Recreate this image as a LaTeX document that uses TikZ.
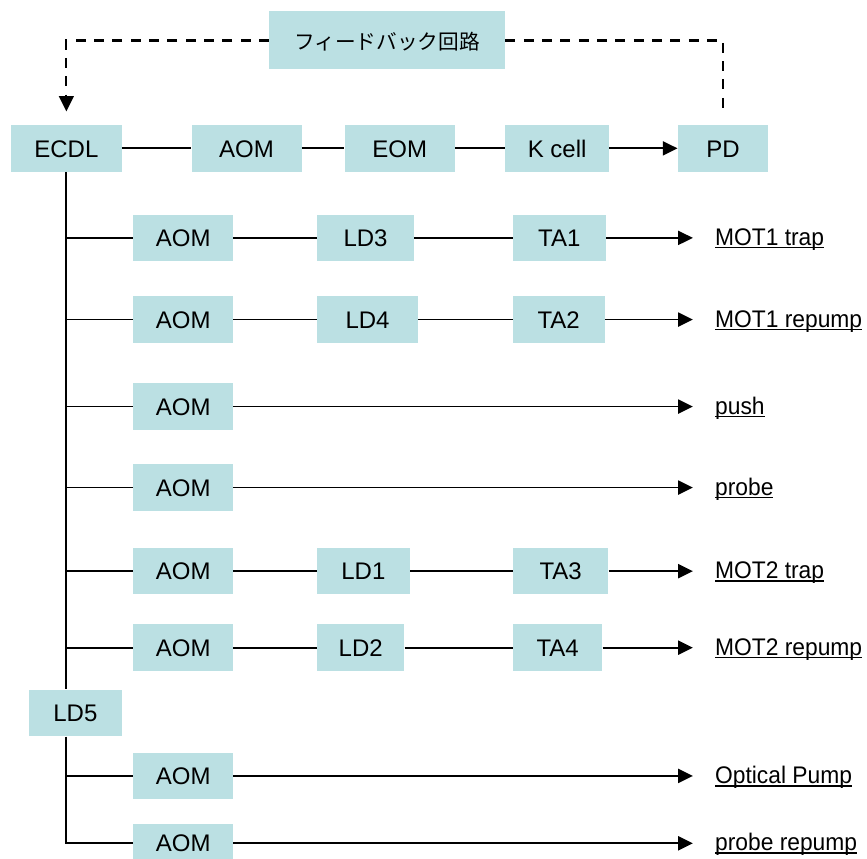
\documentclass[tikz,border=0pt]{standalone}
\usepackage{fontspec}
\setmainfont{Liberation Sans}
\newfontfamily\jpfont{Noto Sans CJK JP}
\newfontfamily\portfont[FakeStretch=0.95]{Liberation Sans}
\usepackage{xcolor}
\usepackage{tikz}
\usetikzlibrary{arrows.meta,positioning}
\definecolor{optfill}{RGB}{187,224,227}
\newcommand{\ulined}[1]{\setbox0\hbox{#1}\rlap{\rule[-2.2pt]{\wd0}{1.1pt}}\box0}
\tikzset{
  optic/.style={rectangle, fill=optfill, minimum height=35pt, inner sep=0pt, align=center, font=\fontsize{18}{20}\selectfont, text height=13pt, text depth=0pt},
  port/.style={inner sep=0pt, font=\portfont\fontsize{18}{20}\selectfont, text height=13pt, text depth=1.5pt},
  wire/.style={line width=1.3pt, draw=black},
  beam/.style={wire, -{Triangle[length=11pt,width=10.5pt]}},
  feedback/.style={wire, line width=1.6pt, dash pattern=on 7.5pt off 6.25pt},
}

\begin{document}
\begin{tikzpicture}
  \useasboundingbox (0,0) rectangle (650.25pt,-643.5pt);
  \clip (0,0) rectangle (650.25pt,-643.5pt);
  \node[optic, minimum width=83pt] (ecdl) at (49.76pt,-111.26pt) {ECDL};
  \node[optic, minimum width=82.5pt, right=52pt of ecdl] (aomfb) {AOM};
  \node[optic, minimum width=82.5pt, right=32pt of aomfb] (eom) {EOM};
  \node[optic, minimum width=77.75pt, right=37.5pt of eom] (kcell) {K cell};
  \node[optic, minimum width=68pt, right=51.25pt of kcell] (pd) {PD};
  \node[optic, font=\jpfont\fontsize{15.5}{18}\selectfont, minimum width=177pt, minimum height=43.5pt, above=41.25pt of eom, xshift=-9.45pt] (loop) {フィードバック回路};
  \draw[wire] (ecdl) -- (aomfb); \draw[wire] (aomfb) -- (eom); \draw[wire] (eom) -- (kcell);
  \draw[beam] (kcell) -- (pd);
  \draw[feedback, -{Triangle[length=11.5pt,width=11pt]}, shorten >=10pt] (loop.west) -| (ecdl.north);
  \draw[feedback, shorten >=7pt] (loop.east) -| (pd.north);

  \node[optic, minimum width=75pt, below right=31.75pt and 8.25pt of ecdl] (aom1) {AOM};
  \node[optic, minimum width=72.75pt, right=62.5pt of aom1] (ld3) {LD3};
  \node[optic, minimum width=69.75pt, right=73.65pt of ld3] (ta1) {TA1};
  \node[port, right=81.6pt of ta1] (mot1trap) {\ulined{MOT1 trap}};

  \node[optic, minimum width=75pt, below=25.85pt of aom1] (aom2) {AOM};
  \node[optic, minimum width=75.75pt, right=62.5pt of aom2] (ld4) {LD4};
  \node[optic, minimum width=68.75pt, right=70.7pt of ld4] (ta2) {TA2};
  \node[port, anchor=west] (mot1rep) at (mot1trap.west |- aom2) {\ulined{MOT1 repump}};

  \node[optic, minimum width=75pt, below=29.85pt of aom2] (aom3) {AOM};
  \node[port, anchor=west] (push) at (mot1trap.west |- aom3) {\ulined{push}};

  \node[optic, minimum width=75pt, below=25.35pt of aom3] (aom4) {AOM};
  \node[port, anchor=west] (probe) at (mot1trap.west |- aom4) {\ulined{probe}};

  \node[optic, minimum width=75pt, below=27.3pt of aom4] (aom5) {AOM};
  \node[optic, minimum width=69.5pt, right=62.5pt of aom5] (ld1) {LD1};
  \node[optic, minimum width=71.6pt, right=77pt of ld1] (ta3) {TA3};
  \node[port, anchor=west] (mot2trap) at (mot1trap.west |- aom5) {\ulined{MOT2 trap}};

  \node[optic, minimum width=75pt, below=22pt of aom5] (aom6) {AOM};
  \node[optic, minimum width=65.4pt, right=62.5pt of aom6] (ld2) {LD2};
  \node[optic, minimum width=67pt, right=81.15pt of ld2] (ta4) {TA4};
  \node[port, anchor=west] (mot2rep) at (mot1trap.west |- aom6) {\ulined{MOT2 repump}};

  \node[optic, minimum width=69.5pt, below left=13.6pt and 8.25pt of aom6] (ld5) {LD5};
  \node[optic, minimum width=75pt, below right=11.8pt and 8.25pt of ld5] (aom7) {AOM};
  \node[port, anchor=west] (pump) at (mot1trap.west |- aom7) {\ulined{Optical Pump}};
  \node[optic, minimum width=75pt, minimum height=29pt, below=18.1pt of aom7] (aom8) {AOM};
  \node[port, anchor=west] (probrep) at (mot1trap.west |- aom8) {\ulined{probe repump}};

  \draw[wire] (ecdl) -- (ecdl |- ld5.north);
  \draw[wire] (ecdl |- ld5.south) |- (aom8);
  \draw[wire] (ecdl |- aom1) -- (aom1); \draw[wire] (ecdl |- aom2) -- (aom2);
  \draw[wire] (ecdl |- aom3) -- (aom3); \draw[wire] (ecdl |- aom4) -- (aom4);
  \draw[wire] (ecdl |- aom5) -- (aom5); \draw[wire] (ecdl |- aom6) -- (aom6);
  \draw[wire] (ecdl |- aom7) -- (aom7);

  \draw[wire] (aom1) -- (ld3); \draw[wire] (ld3) -- (ta1); \draw[beam, shorten >=16.5pt] (ta1) -- (mot1trap);
  \draw[wire] (aom2) -- (ld4); \draw[wire] (ld4) -- (ta2); \draw[beam, shorten >=16.5pt] (ta2) -- (mot1rep);
  \draw[beam, shorten >=16.5pt] (aom3) -- (push);
  \draw[beam, shorten >=16.5pt] (aom4) -- (probe);
  \draw[wire] (aom5) -- (ld1); \draw[wire] (ld1) -- (ta3); \draw[beam, shorten >=16.5pt] (ta3) -- (mot2trap);
  \draw[wire] (aom6) -- (ld2); \draw[wire] (ld2) -- (ta4); \draw[beam, shorten >=16.5pt] (ta4) -- (mot2rep);
  \draw[beam, shorten >=16.5pt] (aom7) -- (pump);
  \draw[beam, shorten >=16.5pt] (aom8) -- (probrep);
\end{tikzpicture}
\end{document}
